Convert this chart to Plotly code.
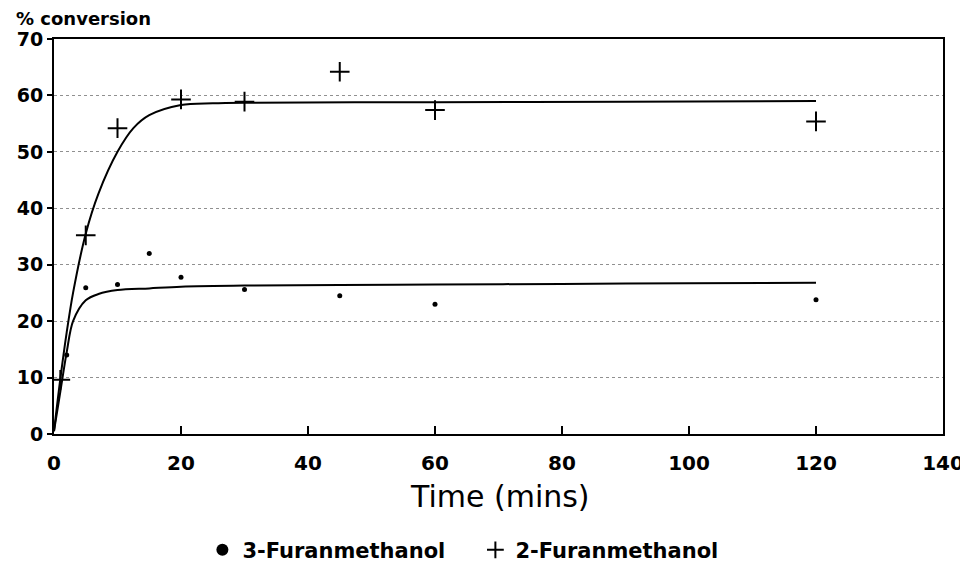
import plotly.graph_objects as go

# ---- data ----
time_3f = [2, 5, 10, 15, 20, 30, 45, 60, 120]
conv_3f = [14.0, 25.9, 26.5, 32.0, 27.8, 25.6, 24.5, 23.0, 23.8]

time_2f = [1, 5, 10, 20, 30, 45, 60, 120]
conv_2f = [9.6, 35.2, 54.2, 59.3, 58.9, 64.2, 57.4, 55.4]

# fitted curves
fit_t_2f = [0, 1, 2, 3, 5, 7, 10, 12.5, 15, 20, 25, 30, 60, 90, 120]
fit_y_2f = [0.5, 9.8, 18.0, 25.0, 35.5, 42.6, 50.0, 54.2, 56.5, 58.3, 58.6, 58.7, 58.8, 58.9, 59.0]

fit_t_3f = [0, 1, 2, 3, 5, 7, 10, 15, 20, 30, 45, 60, 80, 100, 120]
fit_y_3f = [0.5, 7.5, 14.5, 20.0, 23.7, 24.8, 25.5, 25.8, 26.1, 26.3, 26.4, 26.5, 26.6, 26.7, 26.8]

x_ticks = [0, 20, 40, 60, 80, 100, 120, 140]
y_ticks = [0, 10, 20, 30, 40, 50, 60, 70]

FONT = "DejaVu Sans"

fig = go.Figure()

fig.add_trace(go.Scatter(x=fit_t_2f, y=fit_y_2f, mode="lines",
                         line=dict(color="black", width=2, shape="spline", smoothing=0.9),
                         showlegend=False, hoverinfo="skip"))
fig.add_trace(go.Scatter(x=fit_t_3f, y=fit_y_3f, mode="lines",
                         line=dict(color="black", width=2, shape="spline", smoothing=0.9),
                         showlegend=False, hoverinfo="skip"))

fig.add_trace(go.Scatter(x=time_3f, y=conv_3f, mode="markers", name="3-Furanmethanol",
                         marker=dict(symbol="circle", size=5, color="black")))
fig.add_trace(go.Scatter(x=time_2f, y=conv_2f, mode="markers", name="2-Furanmethanol",
                         marker=dict(symbol="cross-thin", size=14, color="black",
                                     line=dict(width=2, color="black"))))

# page body adds an 8px offset, so the figure is 960x557 with margins shifted
fig.update_layout(
    width=960, height=557,
    margin=dict(l=46, r=25, t=31, b=131, autoexpand=False),
    paper_bgcolor="white", plot_bgcolor="white",
    font=dict(family=FONT, color="black", size=20, weight="bold"),
    legend=dict(orientation="h", x=0.474, xanchor="center", y=-0.294, yanchor="middle",
                font=dict(family=FONT, size=21, weight="bold", color="black"),
                entrywidth=228, itemsizing="constant", bgcolor="rgba(0,0,0,0)"),
    annotations=[
        dict(text="% conversion", xref="paper", yref="paper", x=-0.044, y=1.053,
             xanchor="left", yanchor="middle", showarrow=False, borderpad=0,
             font=dict(family=FONT, size=18, weight="bold", color="black")),
        dict(text="Time (mins)", xref="paper", yref="paper", x=0.502, y=-0.157,
             xanchor="center", yanchor="middle", showarrow=False,
             font=dict(family=FONT, size=30, weight="normal", color="black")),
    ],
)

fig.update_xaxes(range=[0, 140], tickvals=x_ticks, ticktext=[str(v) for v in x_ticks],
                 showline=True, linecolor="black", linewidth=2, mirror=True,
                 ticks="inside", ticklen=8, tickwidth=2, tickcolor="black",
                 ticklabelstandoff=10, showgrid=False, zeroline=False, automargin=False,
                 tickfont=dict(family=FONT, size=20, weight="bold"))
fig.update_yaxes(range=[0, 70], tickvals=y_ticks, ticktext=[str(v) for v in y_ticks],
                 showline=True, linecolor="black", linewidth=2, mirror=True,
                 ticks="outside", ticklen=5, tickwidth=2, tickcolor="black",
                 showgrid=True, gridcolor="#909090", gridwidth=1, griddash="dot",
                 zeroline=False, automargin=False,
                 tickfont=dict(family=FONT, size=19, weight="bold"))

fig.write_html("out.html")
